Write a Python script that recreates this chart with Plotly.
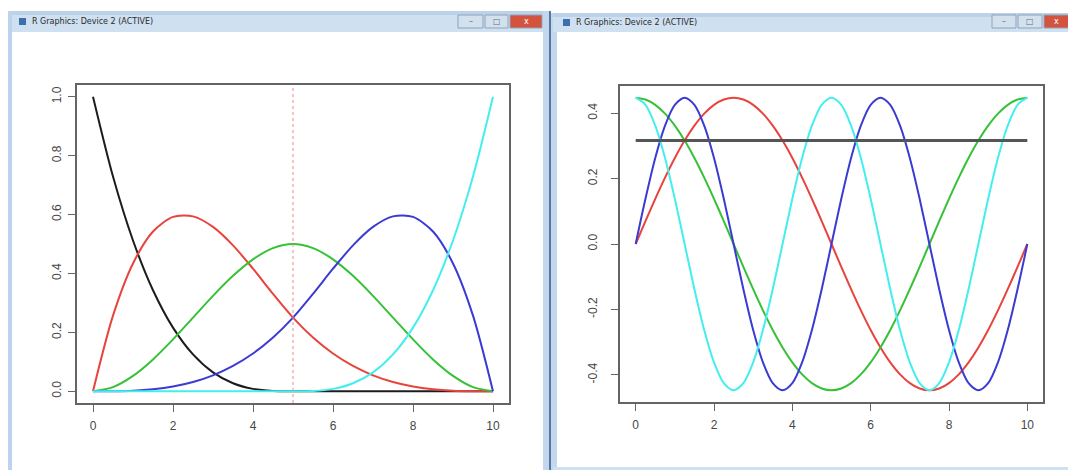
import plotly.graph_objects as go

W, H = 1068, 470

# ---- Left device: cubic B-spline basis on [0, 10], interior knot at 5 ----
x_bs = [0, 0.5, 1, 1.5, 2, 2.5, 3, 3.5, 4, 4.5, 5,
        5.5, 6, 6.5, 7, 7.5, 8, 8.5, 9, 9.5, 10]
bs_black = [1.0, 0.729, 0.512, 0.343, 0.216, 0.125, 0.064, 0.027, 0.008, 0.001, 0.0,
            0, 0, 0, 0, 0, 0, 0, 0, 0, 0]
bs_red = [0.0, 0.2568, 0.434, 0.5423, 0.592, 0.5938, 0.558, 0.4953, 0.416, 0.3308, 0.25,
          0.1823, 0.128, 0.0858, 0.054, 0.0313, 0.016, 0.0068, 0.002, 0.0003, 0.0]
bs_green = [0.0, 0.014, 0.052, 0.108, 0.176, 0.25, 0.324, 0.392, 0.448, 0.486, 0.5,
            0.486, 0.448, 0.392, 0.324, 0.25, 0.176, 0.108, 0.052, 0.014, 0.0]
bs_blue = [0.0, 0.0003, 0.002, 0.0068, 0.016, 0.0313, 0.054, 0.0858, 0.128, 0.1823, 0.25,
           0.3308, 0.416, 0.4953, 0.558, 0.5938, 0.592, 0.5423, 0.434, 0.2568, 0.0]
bs_cyan = [0, 0, 0, 0, 0, 0, 0, 0, 0, 0, 0.0,
           0.001, 0.008, 0.027, 0.064, 0.125, 0.216, 0.343, 0.512, 0.729, 1.0]
knot_x = 5
bs_yticks = [0.0, 0.2, 0.4, 0.6, 0.8, 1.0]
bs_yticklabels = ["0.0", "0.2", "0.4", "0.6", "0.8", "1.0"]

# ---- Right device: Fourier basis on [0, 10] ----
x_fb = [0, 0.25, 0.5, 0.75, 1, 1.25, 1.5, 1.75, 2, 2.25, 2.5, 2.75, 3, 3.25, 3.5, 3.75,
        4, 4.25, 4.5, 4.75, 5, 5.25, 5.5, 5.75, 6, 6.25, 6.5, 6.75, 7, 7.25, 7.5, 7.75,
        8, 8.25, 8.5, 8.75, 9, 9.25, 9.5, 9.75, 10]
fb_const_x = [0, 10]
fb_const = [0.3162, 0.3162]
fb_sin1 = [0.0, 0.0700, 0.1382, 0.2030, 0.2629, 0.3162, 0.3618, 0.3985, 0.4253, 0.4417, 0.4472,
           0.4417, 0.4253, 0.3985, 0.3618, 0.3162, 0.2629, 0.2030, 0.1382, 0.0700, 0.0,
           -0.0700, -0.1382, -0.2030, -0.2629, -0.3162, -0.3618, -0.3985, -0.4253, -0.4417, -0.4472,
           -0.4417, -0.4253, -0.3985, -0.3618, -0.3162, -0.2629, -0.2030, -0.1382, -0.0700, 0.0]
fb_cos1 = [0.4472, 0.4417, 0.4253, 0.3985, 0.3618, 0.3162, 0.2629, 0.2030, 0.1382, 0.0700, 0.0,
           -0.0700, -0.1382, -0.2030, -0.2629, -0.3162, -0.3618, -0.3985, -0.4253, -0.4417, -0.4472,
           -0.4417, -0.4253, -0.3985, -0.3618, -0.3162, -0.2629, -0.2030, -0.1382, -0.0700, 0.0,
           0.0700, 0.1382, 0.2030, 0.2629, 0.3162, 0.3618, 0.3985, 0.4253, 0.4417, 0.4472]
fb_sin2 = [0.0, 0.1382, 0.2629, 0.3618, 0.4253, 0.4472, 0.4253, 0.3618, 0.2629, 0.1382, 0.0,
           -0.1382, -0.2629, -0.3618, -0.4253, -0.4472, -0.4253, -0.3618, -0.2629, -0.1382, 0.0,
           0.1382, 0.2629, 0.3618, 0.4253, 0.4472, 0.4253, 0.3618, 0.2629, 0.1382, 0.0,
           -0.1382, -0.2629, -0.3618, -0.4253, -0.4472, -0.4253, -0.3618, -0.2629, -0.1382, 0.0]
fb_cos2 = [0.4472, 0.4253, 0.3618, 0.2629, 0.1382, 0.0, -0.1382, -0.2629, -0.3618, -0.4253, -0.4472,
           -0.4253, -0.3618, -0.2629, -0.1382, 0.0, 0.1382, 0.2629, 0.3618, 0.4253, 0.4472,
           0.4253, 0.3618, 0.2629, 0.1382, 0.0, -0.1382, -0.2629, -0.3618, -0.4253, -0.4472,
           -0.4253, -0.3618, -0.2629, -0.1382, 0.0, 0.1382, 0.2629, 0.3618, 0.4253, 0.4472]
fb_yticks = [-0.4, -0.2, 0.0, 0.2, 0.4]
fb_yticklabels = ["-0.4", "-0.2", "0.0", "0.2", "0.4"]

x_ticks = [0, 2, 4, 6, 8, 10]
x_ticklabels = ["0", "2", "4", "6", "8", "10"]
window_title = "R Graphics: Device 2 (ACTIVE)"

COL = {"black": "#1c1c1c", "red": "#e8433d", "green": "#36c136",
       "blue": "#3b3bd4", "cyan": "#45eeee"}


def px(v):
    return v / W


def py(v):
    return 1 - v / H


fig = go.Figure()

for name, ys in [("black", bs_black), ("red", bs_red), ("green", bs_green),
                 ("blue", bs_blue), ("cyan", bs_cyan)]:
    fig.add_trace(go.Scatter(x=x_bs, y=ys, mode="lines", xaxis="x", yaxis="y",
                             line=dict(color=COL[name], width=2, shape="spline", smoothing=0.8),
                             hoverinfo="skip"))

for name, ys in [("red", fb_sin1), ("green", fb_cos1), ("blue", fb_sin2), ("cyan", fb_cos2)]:
    fig.add_trace(go.Scatter(x=x_fb, y=ys, mode="lines", xaxis="x2", yaxis="y2",
                             line=dict(color=COL[name], width=2, shape="spline", smoothing=0.8),
                             hoverinfo="skip"))
fig.add_trace(go.Scatter(x=fb_const_x, y=fb_const, mode="lines", xaxis="x2", yaxis="y2",
                         line=dict(color="#555555", width=3), hoverinfo="skip"))

axis_common = dict(showline=True, mirror=True, linecolor="#646464", linewidth=1.5,
                   showgrid=False, zeroline=False, ticks="outside", ticklen=7,
                   tickcolor="#646464", tickwidth=1,
                   tickfont=dict(family="Liberation Sans, Arial, sans-serif", size=12, color="#474747"))

fig.update_layout(
    width=W, height=H, margin=dict(l=0, r=0, t=0, b=0),
    paper_bgcolor="white", plot_bgcolor="white", showlegend=False,
    xaxis=dict(domain=[px(77), px(509)], range=[-0.4, 10.4], anchor="y",
               tickvals=x_ticks, ticktext=x_ticklabels, ticklabelstandoff=4, **axis_common),
    yaxis=dict(domain=[py(403), py(85)], range=[-0.04, 1.04], anchor="x",
               tickvals=bs_yticks, ticktext=bs_yticklabels, tickangle=-90,
               ticklabelstandoff=2, **axis_common),
    xaxis2=dict(domain=[px(620), px(1043)], range=[-0.4, 10.4], anchor="y2",
                tickvals=x_ticks, ticktext=x_ticklabels, ticklabelstandoff=4, **axis_common),
    yaxis2=dict(domain=[py(402), py(86)], range=[-0.483, 0.483], anchor="x2",
                tickvals=fb_yticks, ticktext=fb_yticklabels, tickangle=-90,
                ticklabelstandoff=9, **axis_common),
)

shapes = []


def rect(x0, y0, x1, y1, fill, line=None, lw=0):
    shapes.append(dict(type="rect", xref="paper", yref="paper", layer="below",
                       x0=px(x0), x1=px(x1), y0=py(y1), y1=py(y0),
                       fillcolor=fill, line=dict(color=line or fill, width=lw)))


# window frames and title bars
rect(8, 11, 550, 32, "#cfe0f1")
rect(8, 11, 550, 15, "#bcd2ea")
rect(8, 11, 12, 470, "#bcd3eb")
rect(543, 11, 549, 470, "#c3d8ee")
rect(549, 11, 551, 470, "#58789a")
rect(551, 13, 557, 470, "#c3d8ee")
rect(553, 13, 1068, 32, "#cfe0f1")
rect(553, 13, 1068, 17, "#bcd2ea")
rect(553, 467, 1068, 470, "#cfe0f1")

# caption buttons
buttons = [(458, 483, "#d3e0ee", "–"), (485, 508, "#d3e0ee", "□"), (510, 542, "#d4533e", "x"),
           (992, 1016, "#d3e0ee", "–"), (1018, 1042, "#d3e0ee", "□"), (1044, 1072, "#d4533e", "x")]
for (x0, x1, fill, glyph) in buttons:
    rect(x0, 15, x1, 28, fill, "#8ea3ba", 1)

# window icons
rect(19, 18, 26, 25, "#3c6fb0")
rect(563, 19, 570, 26, "#3c6fb0")

# knot marker on the B-spline panel
shapes.append(dict(type="line", xref="x", yref="y domain", x0=knot_x, x1=knot_x, y0=0, y1=1,
                   line=dict(color="#f08a8a", width=1, dash="dot")))

fig.update_layout(shapes=shapes)

for (x0, x1, fill, glyph) in buttons:
    glyph_color = "white" if fill == "#d4533e" else "#5b6f86"
    fig.add_annotation(x=px((x0 + min(x1, W)) / 2), y=py(21.5), xref="paper", yref="paper",
                       text=glyph, showarrow=False, xanchor="center", yanchor="middle",
                       font=dict(family="DejaVu Sans, sans-serif", size=8, color=glyph_color))

title_font = dict(family="DejaVu Sans, sans-serif", size=8, color="#2a2a2a")
fig.add_annotation(x=px(30), y=py(21.5), xref="paper", yref="paper", text=window_title,
                   showarrow=False, xanchor="left", yanchor="middle", font=title_font)
fig.add_annotation(x=px(574), y=py(22.5), xref="paper", yref="paper", text=window_title,
                   showarrow=False, xanchor="left", yanchor="middle", font=title_font)

fig.write_html("out.html")
